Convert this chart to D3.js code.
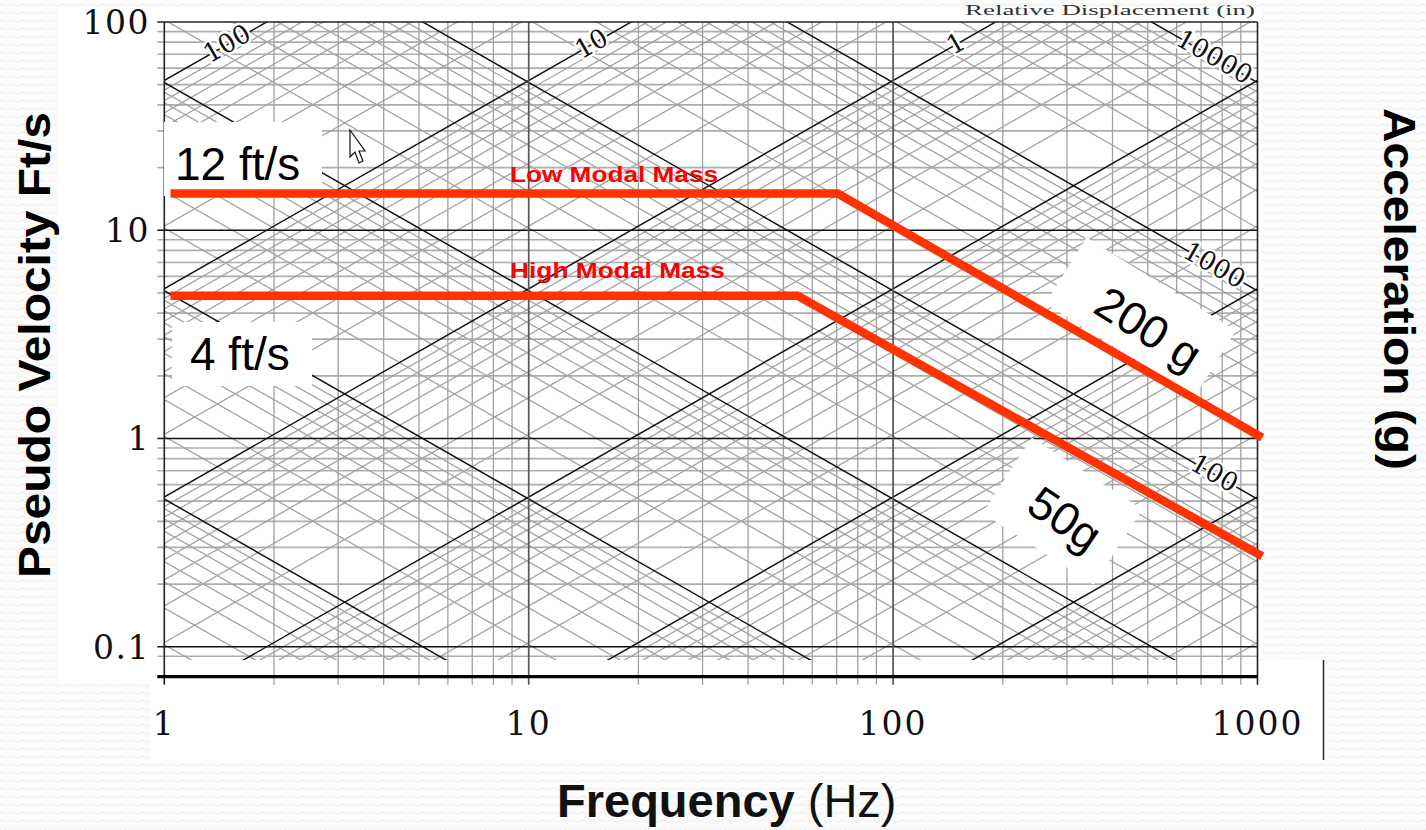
<!DOCTYPE html>
<html>
<head>
<meta charset="utf-8">
<script src="https://cdn.jsdelivr.net/npm/d3@7"></script>
<style>
  body { margin: 0; background: #fbfbfb; }
  svg { display: block; }
</style>
</head>
<body>
<div id="chart"></div>
<script>
// chart values
const freqTicks = [1, 10, 100, 1000];
const freqTickLabels = ["1", "10", "100", "1000"];
const velTicks = [0.1, 1, 10, 100];
const velTickLabels = ["0.1", "1", "10", "100"];
const mults = [1, 2, 3, 4, 5, 6, 7, 8, 9];
const dispDecades = [0.00001, 0.0001, 0.001, 0.01, 0.1, 1, 10, 100];   // inches
const accelDecades = [0.01, 0.1, 1, 10, 100, 1000, 10000];             // g
const dispLabels = [100, 10, 1];
const accelLabels = [10000, 1000, 100];

const lowModalF = [1.04, 70.5, 1030];
const lowModalV = [15, 15, 1.01];
const highModalF = [1.04, 54.7, 1030];
const highModalV = [4.85, 4.85, 0.272];

let svgWidth = 1426;
let svgHeight = 830;

let svg = d3.select("#chart")
  .append("svg")
  .attr("width", svgWidth)
  .attr("height", svgHeight);

let defs = svg.append("defs");
let pat = defs.append("pattern")
  .attr("id", "tex")
  .attr("width", 10).attr("height", 8)
  .attr("patternUnits", "userSpaceOnUse");
pat.append("path")
  .attr("d", "M0 5 Q2.5 2 5 5 T10 5")
  .attr("fill", "none")
  .attr("stroke", "#ececec")
  .attr("stroke-width", 1);

svg.append("rect").attr("width", svgWidth).attr("height", svgHeight).attr("fill", "url(#tex)");

// white panels of the pasted chart image
svg.append("rect").attr("x", 57).attr("y", 8).attr("width", 1205).attr("height", 676).attr("fill", "#fff");
svg.append("rect").attr("x", 150).attr("y", 660).attr("width", 1173).attr("height", 100).attr("fill", "#fff");
svg.append("line").attr("x1", 1323.5).attr("x2", 1323.5).attr("y1", 660).attr("y2", 760)
  .attr("stroke", "#3a1a3a").attr("stroke-width", 1.5);

// scales
const x = d3.scaleLog().domain([1, 1000]).range([164.3, 1257.5]);
const y = d3.scaleLog().domain([0.0718, 100]).range([676.7, 22]);

const plotL = x(1), plotR = x(1000), plotT = y(100), plotB = y(0.0718);

defs.append("clipPath").attr("id", "diagClip")
  .append("rect").attr("x", plotL).attr("y", plotT).attr("width", plotR - plotL).attr("height", 660 - plotT);

const line = d3.line().x(d => x(d[0])).y(d => y(d[1]));

// pseudo velocity (ft/s) from displacement (in) and acceleration (g)
const vFromD = (f, d) => 2 * Math.PI * f * d / 12;
const vFromA = (f, a) => a * 32.174 / (2 * Math.PI * f);

let grid = svg.append("g");

// horizontal grid
let hVals = [];
[0.01, 0.1, 1, 10].forEach(dec => mults.forEach(m => {
  let v = m * dec;
  if (v >= 0.09 && v <= 100) hVals.push({ v: v, major: m === 1 });
}));
grid.selectAll(".hgrid")
  .data(hVals.filter(d => !d.major))
  .enter().append("line")
  .attr("x1", plotL - 7).attr("x2", plotR)
  .attr("y1", d => y(d.v)).attr("y2", d => y(d.v))
  .attr("stroke", "#adadad").attr("stroke-width", 1.7);

// vertical grid
let vVals = [];
[1, 10, 100].forEach(dec => mults.forEach(m => vVals.push({ f: m * dec, major: m === 1 })));
grid.selectAll(".vgrid")
  .data(vVals.filter(d => !d.major))
  .enter().append("line")
  .attr("x1", d => x(d.f)).attr("x2", d => x(d.f))
  .attr("y1", plotT).attr("y2", plotB + 8)
  .attr("stroke", "#a0a0a0").attr("stroke-width", 1.3);

// diagonal lines
let diag = grid.append("g").attr("clip-path", "url(#diagClip)");
let dLines = [], aLines = [];
dispDecades.forEach(dec => mults.forEach(m => dLines.push({ val: m * dec, major: m === 1 })));
accelDecades.forEach(dec => mults.forEach(m => aLines.push({ val: m * dec, major: m === 1 })));

diag.selectAll(".dline")
  .data(dLines.filter(d => !d.major))
  .enter().append("path")
  .attr("d", d => line([[0.5, vFromD(0.5, d.val)], [2000, vFromD(2000, d.val)]]))
  .attr("fill", "none").attr("stroke", "#a3a3a3").attr("stroke-width", 1.3);

diag.selectAll(".aline")
  .data(aLines.filter(d => !d.major))
  .enter().append("path")
  .attr("d", d => line([[0.5, vFromA(0.5, d.val)], [2000, vFromA(2000, d.val)]]))
  .attr("fill", "none").attr("stroke", "#a3a3a3").attr("stroke-width", 1.3);

diag.selectAll(".dmajor")
  .data(dLines.filter(d => d.major))
  .enter().append("path")
  .attr("d", d => line([[0.5, vFromD(0.5, d.val)], [2000, vFromD(2000, d.val)]]))
  .attr("fill", "none").attr("stroke", "#111").attr("stroke-width", 1.5);

diag.selectAll(".amajor")
  .data(aLines.filter(d => d.major))
  .enter().append("path")
  .attr("d", d => line([[0.5, vFromA(0.5, d.val)], [2000, vFromA(2000, d.val)]]))
  .attr("fill", "none").attr("stroke", "#111").attr("stroke-width", 1.5);

// major horizontal / vertical
grid.selectAll(".hmajor")
  .data(hVals.filter(d => d.major && d.v < 100))
  .enter().append("line")
  .attr("x1", plotL - 7).attr("x2", plotR)
  .attr("y1", d => y(d.v)).attr("y2", d => y(d.v))
  .attr("stroke", "#111").attr("stroke-width", 1.7);

grid.selectAll(".vmajor")
  .data([10, 100])
  .enter().append("line")
  .attr("x1", d => x(d)).attr("x2", d => x(d))
  .attr("y1", plotT).attr("y2", plotB + 8)
  .attr("stroke", "#555").attr("stroke-width", 1.7);

// frame
grid.append("line").attr("x1", plotL).attr("x2", plotL).attr("y1", plotT).attr("y2", plotB + 8)
  .attr("stroke", "#222").attr("stroke-width", 1.6);
grid.append("line").attr("x1", plotR).attr("x2", plotR).attr("y1", plotT).attr("y2", plotB + 8)
  .attr("stroke", "#222").attr("stroke-width", 1.6);
grid.append("line").attr("x1", plotL - 7).attr("x2", plotR).attr("y1", plotT).attr("y2", plotT)
  .attr("stroke", "#222").attr("stroke-width", 1.6);
grid.append("line").attr("x1", plotL - 7).attr("x2", plotR).attr("y1", plotB).attr("y2", plotB)
  .attr("stroke", "#000").attr("stroke-width", 3.2);

// diagonal labels
const ang = Math.atan((y(1) - y(10)) / (x(10) - x(1))) * 180 / Math.PI;
let diagLab = svg.append("g")
  .attr("font-family", "DejaVu Serif, serif")
  .attr("font-size", 26)
  .attr("fill", "#111")
  .attr("stroke", "#fff").attr("stroke-width", 5)
  .attr("paint-order", "stroke")
  .attr("text-anchor", "middle");

diagLab.selectAll(".dl")
  .data(dispLabels)
  .enter().append("text")
  .attr("transform", d => {
    let f = 80 / (2 * Math.PI * d / 12);
    return `translate(${x(f)},${y(80) + 9}) rotate(${-ang})`;
  })
  .text(d => d);

diagLab.selectAll(".al")
  .data(accelLabels)
  .enter().append("text")
  .attr("transform", d => `translate(${x(741)},${y(vFromA(741, d)) + 9}) rotate(${ang})`)
  .text(d => d);

// faint title of the source chart along the top edge
svg.append("text")
  .attr("x", 965).attr("y", 15)
  .attr("font-family", "Liberation Serif, serif")
  .attr("font-size", 15)
  .attr("textLength", 290).attr("lengthAdjust", "spacingAndGlyphs")
  .attr("fill", "#333")
  .text("Relative Displacement (in)");

// tick labels
let tickLab = svg.append("g")
  .attr("font-family", "DejaVu Serif, serif")
  .attr("font-size", 33)
  .attr("fill", "#111");

tickLab.selectAll(".yt")
  .data(velTicks)
  .enter().append("text")
  .attr("x", 150).attr("y", d => y(d) + 12)
  .attr("text-anchor", "end")
  .attr("letter-spacing", 1.5)
  .text((d, i) => velTickLabels[i]);

tickLab.selectAll(".xt")
  .data(freqTicks)
  .enter().append("text")
  .attr("x", d => x(d)).attr("y", 735)
  .attr("text-anchor", "middle")
  .attr("letter-spacing", 2)
  .text((d, i) => freqTickLabels[i]);

// mouse cursor from the screenshot
svg.append("path")
  .attr("transform", "translate(350,130)")
  .attr("d", "M0 0 L0 27 L5 22 L9 33 L13 31 L9 21 L15 21 Z")
  .attr("fill", "#fff").attr("stroke", "#111").attr("stroke-width", 1.2);

// white boxes behind annotations
svg.append("rect").attr("x", 164).attr("y", 122).attr("width", 158).attr("height", 74).attr("fill", "#fff");
svg.append("rect").attr("x", 172).attr("y", 322).attr("width", 140).attr("height", 64).attr("fill", "#fff");
svg.append("rect").attr("x", -88).attr("y", -40).attr("width", 176).attr("height", 78)
  .attr("transform", "translate(1140,318) rotate(32)").attr("fill", "#fff");
svg.append("rect").attr("x", -66).attr("y", -46).attr("width", 132).attr("height", 90)
  .attr("transform", "translate(1062,512) rotate(33)").attr("fill", "#fff");

// red spectra
let redLine = d3.line().x(d => x(d.f)).y(d => y(d.v));
svg.append("path")
  .datum(lowModalF.map((f, i) => ({ f: f, v: lowModalV[i] })))
  .attr("d", redLine)
  .attr("fill", "none").attr("stroke", "#ff3300").attr("stroke-width", 8.5);
svg.append("path")
  .datum(highModalF.map((f, i) => ({ f: f, v: highModalV[i] })))
  .attr("d", redLine)
  .attr("fill", "none").attr("stroke", "#ff3300").attr("stroke-width", 8.5);

svg.append("text").attr("x", 510).attr("y", 182)
  .attr("font-family", "Liberation Sans, Arial, sans-serif").attr("font-weight", "bold")
  .attr("font-size", 22).attr("textLength", 208).attr("lengthAdjust", "spacingAndGlyphs")
  .attr("fill", "#ff0000")
  .text("Low Modal Mass");
svg.append("text").attr("x", 510).attr("y", 278)
  .attr("font-family", "Liberation Sans, Arial, sans-serif").attr("font-weight", "bold")
  .attr("font-size", 22).attr("textLength", 215).attr("lengthAdjust", "spacingAndGlyphs")
  .attr("fill", "#ff0000")
  .text("High Modal Mass");

// annotations
let ann = svg.append("g")
  .attr("font-family", "Liberation Sans, Arial, sans-serif")
  .attr("font-size", 46)
  .attr("fill", "#000");
ann.append("text").attr("x", 175).attr("y", 180).text("12 ft/s");
ann.append("text").attr("x", 190).attr("y", 370).text("4 ft/s");
ann.append("text").attr("transform", "translate(1140,342) rotate(32)")
  .attr("text-anchor", "middle").text("200 g");
ann.append("text").attr("transform", "translate(1056,532) rotate(34)")
  .attr("text-anchor", "middle").text("50g");

// axis titles
svg.append("text")
  .attr("transform", "translate(50,345) rotate(-90)")
  .attr("text-anchor", "middle")
  .attr("font-family", "Liberation Sans, Arial, sans-serif")
  .attr("font-weight", "bold").attr("font-size", 44)
  .attr("textLength", 466).attr("lengthAdjust", "spacingAndGlyphs")
  .text("Pseudo Velocity Ft/s");

svg.append("text")
  .attr("transform", "translate(1384,289) rotate(90)")
  .attr("text-anchor", "middle")
  .attr("font-family", "Liberation Sans, Arial, sans-serif")
  .attr("font-weight", "bold").attr("font-size", 44)
  .attr("textLength", 362).attr("lengthAdjust", "spacingAndGlyphs")
  .text("Acceleration (g)");

let xt = svg.append("text")
  .attr("x", 557).attr("y", 817)
  .attr("font-family", "Liberation Sans, Arial, sans-serif")
  .attr("font-size", 47)
  .attr("fill", "#111");
xt.append("tspan").attr("font-weight", "bold").text("Frequency");
xt.append("tspan").text(" (Hz)");
</script>
</body>
</html>
